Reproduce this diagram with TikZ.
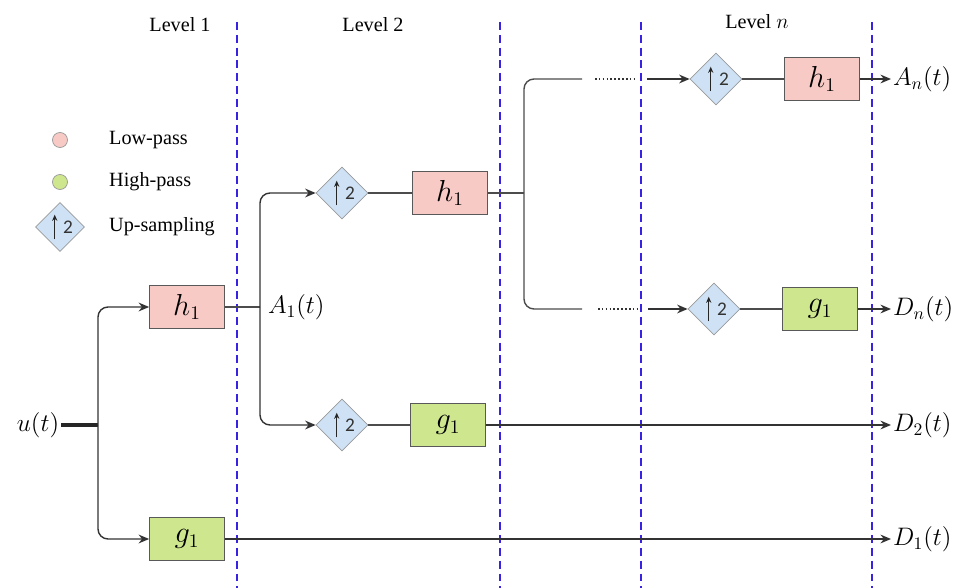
\documentclass[tikz,border=0pt]{standalone}
\usepackage{fontspec}
\setmainfont{Liberation Serif}
\setsansfont{Carlito}
\usetikzlibrary{shapes.geometric,arrows.meta,positioning}
\definecolor{lowpink}{RGB}{248,202,198}
\definecolor{highgreen}{RGB}{206,231,142}
\definecolor{upblue}{RGB}{207,226,245}
\definecolor{levelblue}{RGB}{55,35,225}
\begin{document}
\begin{tikzpicture}[
  x=0.02cm, y=-0.02cm,
  font=\fontsize{11.5}{13}\selectfont,
  >={Stealth[length=6pt, width=5pt]},
  low/.style={rectangle, draw=black!65, fill=lowpink, minimum width=1.5cm,
              minimum height=0.86cm, inner sep=0, font=\fontsize{16}{18}\selectfont},
  high/.style={rectangle, draw=black!65, fill=highgreen, minimum width=1.5cm,
               minimum height=0.86cm, inner sep=0, font=\fontsize{16}{18}\selectfont},
  upsmp/.style={diamond, draw=black!40, fill=upblue, minimum width=1.04cm,
                minimum height=1.04cm, inner sep=0, text=black!80,
                font=\sffamily\fontsize{11}{12}\selectfont,
                path picture={\draw[draw=black!85, -{Stealth[length=3.5pt, width=3pt]}, line width=0.7pt]
                  ([xshift=-3pt, yshift=-7pt]path picture bounding box.center) -- ++(0,14pt);}},
  dot/.style={circle, draw=black!40, minimum size=0.3cm, inner sep=0},
  lvl/.style={draw=levelblue, line width=1.3pt, dash pattern=on 4.5pt off 2.8pt},
  tr/.style={->, line width=0.8pt, draw=black!80, rounded corners=0.2cm},
  ln/.style={line width=0.8pt, draw=black!70},
  dts/.style={line width=1.1pt, draw=black!80, dash pattern=on 0.9pt off 1.3pt},
  sig/.style={font=\fontsize{14}{16}\selectfont, inner sep=1pt},
]

\useasboundingbox (0,0) rectangle (971,588);

\foreach \xl in {237,500,641,872}
  \draw[lvl] (\xl,22) -- (\xl,588);

\node (lv1) at (180,25) {Level 1};
\node (lv2) at (373,25) {Level 2};
\node (lvn) at (757,22) {Level $n$};

\node[dot, fill=lowpink]   (k1) at (60,140) {};
\node[dot, fill=highgreen] (k2) at (60,182) {};
\node[upsmp, minimum width=0.98cm, minimum height=0.98cm] (k3) at (60,227) {\makebox[0pt][l]{\,2}};
\node[anchor=west] (t1) at (103,140) {Low-pass};
\node[anchor=west] (t2) at (103,182) {High-pass};
\node[anchor=west] (t3) at (103,227) {Up-sampling};

\node[sig] (u) at (38,425) {$u(t)$};
\node[low]  (h1a) at (187,307) {$h_1$};
\node[high] (g1a) at (187,539) {$g_1$};
\coordinate (s1) at (98,425);

\node[upsmp] (up2a) at (342,193) {\makebox[0pt][l]{\,2}};
\node[upsmp] (up2b) at (342,425) {\makebox[0pt][l]{\,2}};
\node[low]  (h1b) at (450,193) {$h_1$};
\node[high] (g1b) at (448,425) {$g_1$};
\coordinate (s2) at (260,307);
\node[sig, anchor=west] (A1) at (266,307) {$A_1(t)$};

\coordinate (s3) at (524,193);
\coordinate (pa1) at (582,79);
\coordinate (pa2) at (595,79);
\coordinate (pa3) at (635,79);
\coordinate (pa4) at (647,79);
\coordinate (pd1) at (582,309);
\coordinate (pd2) at (598,309);
\coordinate (pd3) at (640,309);
\coordinate (pd4) at (648,309);

\node[upsmp] (upna) at (716,79)  {\makebox[0pt][l]{\,2}};
\node[upsmp] (upnb) at (714,309) {\makebox[0pt][l]{\,2}};
\node[low]  (h1n) at (822,79)  {$h_1$};
\node[high] (g1n) at (820,309) {$g_1$};

\node[sig, anchor=west] (An) at (891,79)  {$A_n(t)$};
\node[sig, anchor=west] (Dn) at (891,309) {$D_n(t)$};
\node[sig, anchor=west] (D2) at (891,425) {$D_2(t)$};
\node[sig, anchor=west] (D1) at (891,539) {$D_1(t)$};

\draw[line width=1.8pt, draw=black!85] (u.east) -- (s1);
\draw[tr] (s1) |- (h1a.west);
\draw[tr] (s1) |- (g1a.west);

\draw[ln] (h1a.east) -- (s2);
\draw[tr] (s2) |- (up2a.west);
\draw[tr] (s2) |- (up2b.west);
\draw[ln] (up2a.east) -- (h1b.west);
\draw[ln] (up2b.east) -- (g1b.west);
\draw[tr] (g1b.east) -- (D2.west);
\draw[tr] (g1a.east) -- (D1.west);

\draw[ln] (h1b.east) -- (s3);
\draw[ln, rounded corners=0.2cm] (s3) |- (pa1);
\draw[ln, rounded corners=0.2cm] (s3) |- (pd1);
\draw[dts] (pa2) -- (pa3);
\draw[dts] (pd2) -- (pd3);
\draw[tr] (pa4) -- (upna.west);
\draw[tr] (pd4) -- (upnb.west);
\draw[ln] (upna.east) -- (h1n.west);
\draw[ln] (upnb.east) -- (g1n.west);
\draw[tr] (h1n.east) -- (An.west);
\draw[tr] (g1n.east) -- (Dn.west);

\end{tikzpicture}
\end{document}
